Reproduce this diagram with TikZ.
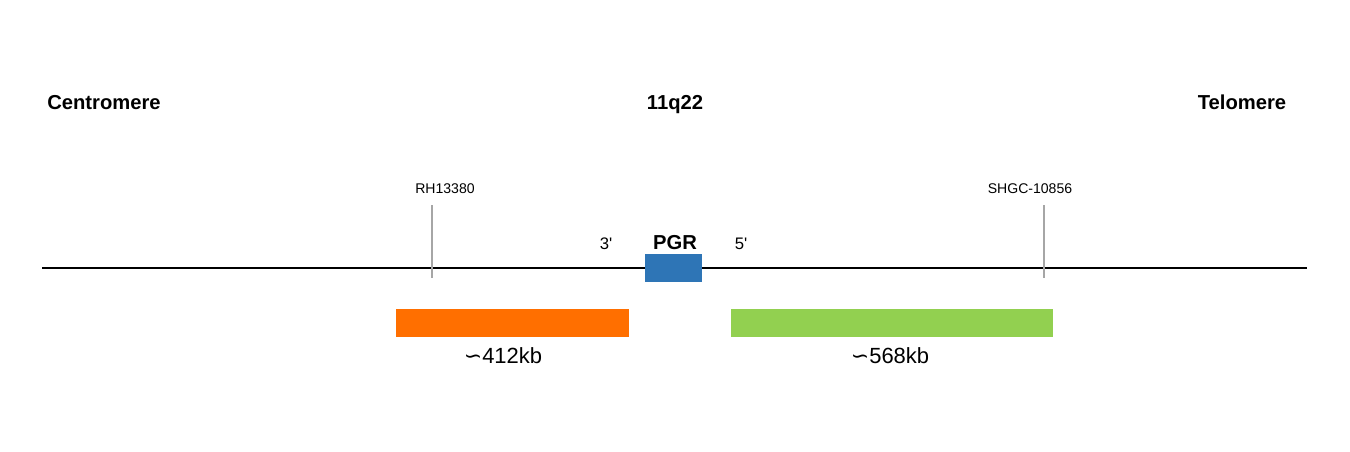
\documentclass[tikz,border=0pt]{standalone}
\usepackage{fontspec}
\setmainfont{Liberation Sans}
\newfontfamily\symbolfont{DejaVu Sans}
\usetikzlibrary{positioning}
\definecolor{pgrblue}{HTML}{2E75B6}
\definecolor{segorange}{HTML}{FF6F00}
\definecolor{seggreen}{HTML}{92D050}
\tikzset{
    titulo/.style={font=\fontsize{11.5}{13}\selectfont\bfseries, inner sep=0pt, anchor=base},
    marca/.style={draw=black!35, line width=1.2pt},
    marcatxt/.style={font=\fontsize{8}{9}\selectfont, inner sep=0pt, anchor=base},
    extremo/.style={font=\fontsize{9.5}{11}\selectfont, inner sep=0pt, anchor=base},
    segmento/.style={minimum width=#1, minimum height=0.56cm, inner sep=0pt},
    tamano/.style={font=\fontsize{12.5}{14}\selectfont, inner sep=0pt, anchor=base},
}
\newcommand{\aprox}{{\symbolfont\char"223D}}

\begin{document}
\begin{tikzpicture}[x=0.02cm, y=-0.02cm]
\useasboundingbox (0,0) rectangle (1350,451);
% Titles
\node[titulo] (centro) at (104,109) {Centromere};
\node[titulo] (banda) at (675,109) {11q22};
\node[titulo] (telo) at (1242,109) {Telomere};
% Chromosome line
\coordinate (izq) at (42,268);
\coordinate (der) at (1307,268);
\draw[line width=1.2pt] (izq) -- (der);
% Markers
\foreach \nombre/\x/\tx/\txt in {rh/432/445/RH13380, shgc/1044/1030/SHGC-10856} {
    \node[marcatxt] (\nombre) at (\tx,193) {\txt};
    \coordinate (\nombre-a) at (\x,205);
    \coordinate (\nombre-b) at (\x,278);
    \draw[marca] (\nombre-a) -- (\nombre-b);
}
% Gene
\node[fill=pgrblue, minimum width=1.14cm, minimum height=0.56cm, inner sep=0pt] (pgr) at (673.5,268) {};
\node[titulo] (pgrtxt) at (675,249) {PGR};
\node[extremo] (tres) at (606,249) {3\textquotesingle};
\node[extremo] (cinco) at (741,249) {5\textquotesingle};
% Segments
\node[segmento=4.66cm, fill=segorange] (izqseg) at (512.5,323) {};
\node[segmento=6.44cm, fill=seggreen] (derseg) at (892,323) {};
\node[tamano] (izqkb) at (503,363) {\aprox412kb};
\node[tamano] (derkb) at (890,363) {\aprox568kb};
\end{tikzpicture}
\end{document}
